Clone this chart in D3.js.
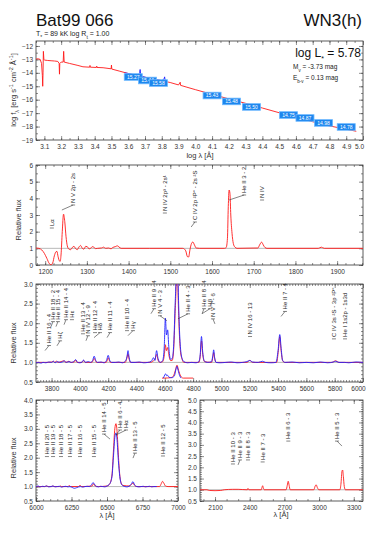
<!DOCTYPE html>
<html>
<head>
<meta charset="utf-8">
<script src="https://cdn.jsdelivr.net/npm/d3@7"></script>
<style>
  body { margin: 0; background: #fff; }
  svg { font-family: "Liberation Sans", Arial, sans-serif; }
  .axis .domain { display: none; }
  .axis line { stroke: #444; stroke-width: 0.6; }
  .axis text { font-size: 6.5px; fill: #333; font-family: "Liberation Sans", Arial, sans-serif; }
  .lid { font-size: 6px; fill: #222; }
</style>
</head>
<body>
<script>
// ---- SED panel (log lambda / log f_lambda) ----
const sedModel = [[3.05,-12.98],[3.06,-12.95],[3.075,-13.0],[3.083,-13.3],[3.088,-14.2],[3.09,-15.0],[3.092,-14.0],[3.094,-12.4],[3.097,-13.0],
  [3.1,-13.05],[3.12,-13.08],[3.14,-13.1],[3.16,-13.12],[3.18,-13.15],[3.188,-13.3],[3.19,-14.1],[3.192,-13.3],[3.2,-13.2],[3.212,-13.2],
  [3.215,-12.4],[3.218,-13.2],[3.25,-13.3],[3.3,-13.45],[3.33,-13.55],[3.37,-13.58],[3.372,-13.45],[3.374,-13.58],[3.41,-13.6],[3.412,-13.5],
  [3.414,-13.6],[3.45,-13.62],[3.498,-13.7],[3.5,-13.42],[3.502,-13.72],[3.55,-13.88],[3.6,-14.05],[3.65,-14.2],[3.7,-14.33],[3.75,-14.45],
  [3.8,-14.58],[3.85,-14.72],[3.9,-14.9],[3.91,-14.7],[3.912,-14.93],[3.95,-15.07],[4.0,-15.25],[4.1,-15.6],[4.2,-15.94],[4.3,-16.27],
  [4.4,-16.62],[4.5,-16.97],[4.6,-17.3],[4.7,-17.64],[4.8,-17.95],[4.9,-18.2],[4.96,-18.35]];
const sedObs = [[3.58,-14.0],[3.62,-14.1],[3.66,-14.2],[3.668,-14.0],[3.671,-13.75],[3.674,-14.1],[3.68,-14.25],[3.72,-14.4],
  [3.76,-14.5],[3.8,-14.58],[3.814,-14.45],[3.817,-14.3],[3.82,-14.55],[3.83,-14.62]];
const photLogLam = [3.63, 3.715, 3.78, 4.10, 4.216, 4.335, 4.556, 4.654, 4.765, 4.90];
const photFlux   = [-14.31, -14.57, -14.76, -15.69, -16.13, -16.54, -17.14, -17.36, -17.73, -18.03];
const photMags   = ["15.27", "15.44", "15.58", "15.43", "15.48", "15.50", "14.75", "14.87", "14.98", "14.78"];

// ---- UV panel ----
const uvModel = [[1178,1.02],[1185,1.0],[1192,0.9],[1198,0.7],[1204,0.4],[1210,0.08],[1214,0.02],[1218,0.12],[1222,0.55],[1226,0.8],
  [1228,0.82],[1231,0.5],[1234,0.25],[1236,0.22],[1238,0.6],[1241,2.0],[1244,3.05],[1247,2.6],[1250,1.7],[1253,1.15],[1257,0.95],
  [1261,0.92],[1265,1.05],[1269,1.12],[1273,0.98],[1277,0.92],[1281,1.08],[1285,1.17],[1289,1.0],[1293,0.95],[1297,1.12],[1301,1.1],
  [1305,0.97],[1309,1.0],[1313,1.1],[1317,1.06],[1321,0.98],[1326,1.0],[1335,1.02],[1340,1.07],[1345,1.0],[1352,1.02],[1358,0.97],
  [1362,1.05],[1368,1.1],[1373,1.15],[1377,1.08],[1382,1.0],[1450,1.0],[1530,1.0],[1537,0.85],[1541,0.5],[1544,0.48],[1547,0.9],
  [1551,1.3],[1554,1.38],[1558,1.2],[1562,1.02],[1570,1.0],[1630,1.0],[1634,1.05],[1637,1.6],[1639,3.5],[1641,4.5],[1643,4.3],
  [1645,3.0],[1648,1.9],[1651,1.3],[1655,1.07],[1660,1.0],[1710,1.02],[1714,1.2],[1719,1.37],[1723,1.2],[1727,1.05],[1732,1.0],
  [1855,1.0],[1862,1.07],[1869,1.0],[1962,1.0]];

// ---- optical panel ----
const optModel = [[3690,1.0],[3760,1.0],[3800,1.01],[3813,1.03],[3820,1.0],[3835,1.03],[3845,1.0],[3889,1.04],[3900,1.0],[3923,1.03],
  [3935,1.0],[3960,1.01],[3970,1.06],[3980,1.0],[4015,1.0],[4026,1.05],[4037,1.0],[4085,1.0],[4095,1.06],[4101,1.1],[4108,1.06],
  [4118,1.0],[4185,1.0],[4194,1.06],[4200,1.12],[4207,1.06],[4216,1.0],[4320,1.0],[4330,1.08],[4340,1.22],[4348,1.08],[4358,1.0],
  [4500,1.0],[4515,1.03],[4530,1.08],[4542,1.2],[4552,1.06],[4565,1.0],[4585,1.02],[4597,1.2],[4604,1.45],[4611,1.3],[4620,1.38],
  [4628,1.2],[4640,1.05],[4652,1.05],[4662,1.3],[4672,2.2],[4680,3.1],[4686,5.0],[4692,3.1],[4700,2.0],[4710,1.3],[4722,1.08],
  [4735,1.0],[4840,1.0],[4850,1.15],[4859,1.55],[4868,1.2],[4880,1.02],[4930,1.0],[4940,1.15],[4945,1.25],[4952,1.1],[4962,1.0],
  [5180,1.0],[5200,1.05],[5220,1.0],[5390,1.0],[5402,1.3],[5412,1.66],[5420,1.35],[5432,1.05],[5445,1.0],[5780,1.0],[5806,1.04],
  [5830,1.0],[6000,1.0]];
const optObs = [[3690,0.99],[3710,1.0],[3725,0.98],[3740,1.0],[3760,0.99],[3780,1.01],[3800,1.0],[3813,1.03],[3825,0.99],[3840,1.02],
  [3860,1.0],[3875,1.01],[3889,1.04],[3905,1.0],[3923,1.02],[3940,1.0],[3955,1.02],[3970,1.07],[3985,1.0],[4000,0.99],[4015,1.01],
  [4026,1.06],[4040,1.0],[4060,1.02],[4075,1.0],[4090,1.05],[4101,1.16],[4112,1.05],[4125,1.0],[4150,1.01],[4170,0.99],[4188,1.05],
  [4200,1.18],[4212,1.04],[4225,1.0],[4250,1.0],[4275,1.01],[4300,0.99],[4320,1.03],[4333,1.15],[4340,1.3],[4348,1.12],[4360,1.0],
  [4390,1.0],[4420,1.01],[4450,0.99],[4480,1.0],[4505,1.03],[4520,1.12],[4530,1.05],[4542,1.3],[4552,1.1],[4568,1.0],[4585,1.05],
  [4596,1.4],[4604,2.13],[4612,1.7],[4620,1.83],[4628,1.4],[4640,1.08],[4652,1.1],[4662,1.4],[4672,2.4],[4680,3.4],[4686,5.5],
  [4692,3.5],[4700,2.2],[4710,1.4],[4722,1.1],[4735,1.02],[4760,0.99],[4790,1.0],[4820,0.99],[4840,1.02],[4850,1.2],[4859,1.66],
  [4868,1.25],[4880,1.03],[4900,1.0],[4930,1.02],[4940,1.2],[4945,1.32],[4952,1.12],[4962,1.0],[4990,0.99],[5030,1.0],[5070,1.01],
  [5110,0.99],[5150,1.0],[5180,1.02],[5200,1.05],[5220,1.01],[5260,1.0],[5290,1.03],[5310,1.0],[5350,0.99],[5385,1.0],[5400,1.3],
  [5412,1.71],[5422,1.35],[5432,1.05],[5450,1.0],[5500,1.01],[5550,0.99],[5600,1.0],[5650,0.99],[5700,1.01],[5750,0.99],[5790,1.01],
  [5806,1.03],[5830,1.0],[5870,1.0],[5900,0.99],[5950,1.01],[6000,1.0]];
const insetModel = [[4580,0.6],[4600,0.6],[4640,0.61],[4660,0.65],[4675,0.8],[4686,0.93],[4697,0.8],[4712,0.65],[4730,0.6],[4800,0.6]];
const insetObs = [[4590,0.6],[4600,0.68],[4606,0.71],[4613,0.66],[4620,0.67],[4630,0.62],[4650,0.61],[4668,0.66],[4678,0.82],
  [4686,0.9],[4694,0.8],[4705,0.66],[4715,0.6]];

// ---- red panel ----
const redModel = [[6000,1.0],[6060,1.0],[6074,1.02],[6085,1.0],[6110,1.0],[6118,1.02],[6128,1.0],[6165,1.0],[6171,1.02],[6180,1.0],
  [6225,1.0],[6233,1.04],[6242,1.0],[6300,1.0],[6310,1.05],[6320,1.0],[6395,1.02],[6406,1.1],[6417,1.02],[6440,1.0],[6500,1.02],
  [6520,1.1],[6535,1.4],[6545,2.2],[6555,3.0],[6563,3.18],[6571,2.9],[6580,2.1],[6590,1.4],[6600,1.12],[6612,1.04],[6660,1.02],
  [6673,1.08],[6683,1.12],[6693,1.05],[6710,1.0],[6870,1.0],[6882,1.1],[6891,1.18],[6900,1.12],[6912,1.02],[6930,1.0],[7000,1.0]];
const redObs = [[6000,1.0],[6015,1.02],[6030,0.99],[6045,1.01],[6060,1.0],[6075,1.02],[6090,0.99],[6105,1.0],[6120,1.02],[6135,0.99],
  [6150,1.0],[6165,1.01],[6180,0.98],[6195,1.0],[6210,1.01],[6225,0.99],[6240,1.0],[6255,0.97],[6270,0.94],[6285,0.96],[6300,0.99],
  [6315,1.0],[6330,0.98],[6345,1.0],[6360,1.01],[6375,1.0],[6390,1.05],[6402,1.14],[6412,1.08],[6425,1.0],[6440,0.99],[6455,1.01],
  [6470,1.0],[6485,0.99],[6500,1.02],[6520,1.1],[6535,1.35],[6545,2.0],[6555,2.7],[6563,2.86],[6571,2.6],[6580,1.9],[6590,1.35],
  [6600,1.1],[6612,1.03],[6625,1.0],[6640,0.99],[6655,1.01],[6670,1.08],[6683,1.17],[6695,1.05],[6710,1.0],[6725,0.99],[6740,1.0],
  [6755,1.01],[6770,0.99],[6785,1.0],[6800,1.01],[6815,0.99],[6830,1.0],[6850,1.0]];

// ---- near-UV panel ----
const nuvModel = [[1970,1.0],[2030,1.0],[2050,0.97],[2100,0.96],[2150,0.97],[2180,1.0],[2253,1.02],[2300,1.02],[2380,1.0],[2385,1.06],
  [2392,1.0],[2500,1.0],[2506,1.1],[2512,1.18],[2518,1.08],[2526,1.0],[2715,1.0],[2725,1.2],[2733,1.38],[2741,1.2],[2750,1.0],
  [2955,1.0],[2965,1.15],[2975,1.22],[2985,1.1],[2998,1.0],[3180,1.0],[3190,1.3],[3198,1.82],[3204,1.88],[3210,1.6],[3218,1.15],
  [3228,1.0],[3380,1.0]];

// ---- line identifications: [label, line wavelength, label wavelength, label base flux] ----
const uvIds = [["Lα",1216,1216,2.22],["N V 2p - 2s",1240,1267,3.6],["N IV 2p³ - 2s¹",1487,1487,3.12],
  ["C IV 2p ²P° - 2s ²S",1550,1559,2.58],["He II 3 - 2",1641,1677,4.2],["N IV",1720,1720,3.9]];
const optIds = [["He II 16 - 4",3754,3782,1.43],["Hζ",3838,3860,1.55],["He II 18 - 2",3796,3810,2.04],["He II 15 - 4",3831,3845,2.04],
  ["He II 14 - 4",3888,3902,2.09],["Hε",3944,3944,2.09],["He II 13 - 4",4022,4022,1.73],["N IV 12 - 9",4043,4057,1.68],
  ["He II 12 - 4",4100,4107,1.76],["Hδ",4100,4142,1.76],["He II 11 - 4",4192,4213,1.76],["He II 10 - 4",4340,4333,1.81],
  ["Hγ",4340,4375,1.81],["He II 9 - 4",4502,4524,2.37],["N V 4 - 3",4615,4566,2.19],["He II 4 - 3",4693,4764,2.24],
  ["He II 8 - 4",4863,4877,2.37],["Hβ",4863,4919,2.37],["N V 7 - 6",4954,4940,2.11],["N IV 16 - 13",5202,5202,1.66],
  ["He II 7 - 4",5421,5449,2.30],["C IV 3s ²S - 3p ²P°",5795,5795,1.60],["He I 1s2p - 1s3d",5873,5873,1.60]];
const redIds = [["He II 20 - 5",6077,6077,2.04],["He II 19 - 5",6120,6120,2.04],["He II 18 - 5",6176,6176,2.04],
  ["He II 17 - 5",6239,6239,2.04],["He II 16 - 5",6310,6310,2.04],["He II 15 - 5",6408,6408,2.04],["He II 14 - 5",6521,6479,2.82],
  ["He II 6 - 4",6563,6591,2.96],["Hα",6563,6634,2.96],["He II 13 - 5",6683,6697,2.16],["He II 12 - 5",6894,6894,2.06]];
const nuvIds = [["He II 10 - 3",2255,2255,2.15],["He II 9 - 3",2299,2316,2.33],["He II 8 - 3",2385,2385,2.33],
  ["He II 7 - 3",2512,2512,2.24],["He II 6 - 3",2734,2734,3.17],["He II 5 - 3",3198,3155,3.17]];

// ---- tick labels ----
const sedTicks = [3.1,3.2,3.3,3.4,3.5,3.6,3.7,3.8,3.9,4.0,4.1,4.2,4.3,4.4,4.5,4.6,4.7,4.8,4.9,5.0];
const sedYTicks = [-12,-13,-14,-15,-16,-17,-18,-19];
const uvTicks = [1200,1300,1400,1500,1600,1700,1800,1900];
const uvYTicks = [0,1,2,3,4,5,6];
const optTicks = [3800,4000,4200,4400,4600,4800,5000,5200,5400,5600,5800,6000];
const optYTicks = [0.5,1.0,1.5,2.0,2.5,3.0];
const redTicks = [6000,6250,6500,6750,7000];
const redYTicks = [0.5,1.0,1.5,2.0,2.5,3.0,3.5,4.0];
const nuvTicks = [2100,2400,2700,3000,3300];
const nuvYTicks = [0.5,1.0,1.5,2.0,2.5,3.0,3.5,4.0,4.5,5.0];

const RED = "#ff1a1a", BLUE = "#2222ff";
const svg = d3.select("body").append("svg").attr("width", 382).attr("height", 541);

function panel(o) {
  const x = d3.scaleLinear().domain(o.xDom).range([o.left, o.right]);
  const y = d3.scaleLinear().domain(o.yDom).range([o.bottom, o.top]);
  const g = svg.append("g");
  g.append("clipPath").attr("id", o.id).append("rect")
    .attr("x", o.left).attr("y", o.top).attr("width", o.right - o.left).attr("height", o.bottom - o.top);
  const ax = (gen, t) => g.append("g").attr("class", "axis").attr("transform", t).call(gen);
  const bl = `translate(0,${o.bottom})`, tl = `translate(0,${o.top})`;
  const ll = `translate(${o.left},0)`, rl = `translate(${o.right},0)`;
  ax(d3.axisBottom(x).tickValues(o.xMinor).tickSize(-2).tickFormat(""), bl);
  ax(d3.axisTop(x).tickValues(o.xMinor).tickSize(-2).tickFormat(""), tl);
  ax(d3.axisLeft(y).tickValues(o.yMinor).tickSize(-2).tickFormat(""), ll);
  ax(d3.axisRight(y).tickValues(o.yMinor).tickSize(-2).tickFormat(""), rl);
  const xb = ax(d3.axisBottom(x).tickValues(o.xMajor).tickSize(-4).tickPadding(4).tickFormat(o.xFmt), bl);
  ax(d3.axisTop(x).tickValues(o.xMajor).tickSize(-4).tickFormat(""), tl);
  ax(d3.axisLeft(y).tickValues(o.yMajor).tickSize(-4).tickPadding(3).tickFormat(o.yFmt), ll);
  ax(d3.axisRight(y).tickValues(o.yMajor).tickSize(-4).tickFormat(""), rl);
  if (o.lastShift) xb.selectAll(".tick:last-of-type text").attr("dx", o.lastShift);
  g.append("rect").attr("x", o.left).attr("y", o.top).attr("width", o.right - o.left)
    .attr("height", o.bottom - o.top).attr("fill", "none").attr("stroke", "#333").attr("stroke-width", 0.8);
  const plot = g.append("g").attr("clip-path", `url(#${o.id})`);
  return { g, plot, x, y };
}

function curve(p, data, color, type) {
  const line = d3.line().x(d => p.x(d[0])).y(d => p.y(d[1])).curve(type || d3.curveMonotoneX);
  p.plot.append("path").datum(data).attr("d", line).attr("fill", "none")
    .attr("stroke", color).attr("stroke-width", 0.9).attr("stroke-linejoin", "round");
}

function refLine(p, v) {
  const [a, b] = p.x.domain();
  p.plot.append("line").attr("x1", p.x(a)).attr("x2", p.x(b)).attr("y1", p.y(v)).attr("y2", p.y(v))
    .attr("stroke", "#999").attr("stroke-width", 0.7);
}

function lineIds(p, ids) {
  ids.forEach(([name, lam, at, base]) => {
    const xl = p.x(lam), xt = p.x(at), yb = p.y(base);
    const gg = p.g.append("g").attr("stroke", "#333").attr("stroke-width", 0.6);
    if (Math.abs(xl - xt) > 1) gg.append("line").attr("x1", xl).attr("y1", yb + 5).attr("x2", xt).attr("y2", yb);
    gg.append("line").attr("x1", xt - 2).attr("x2", xt + 2).attr("y1", yb).attr("y2", yb);
    p.g.append("text").attr("class", "lid")
      .attr("transform", `translate(${xt + 2.1},${yb - 2}) rotate(-90)`).text(name);
  });
}

function yTitle(x, y, parts) {
  const t = svg.append("text").attr("transform", `translate(${x},${y}) rotate(-90)`)
    .attr("text-anchor", "middle").attr("font-size", 7.5).attr("fill", "#333");
  parts.forEach(([s, shift]) => {
    const ts = t.append("tspan").text(s);
    if (shift) ts.attr("baseline-shift", shift).attr("font-size", 5.5);
  });
}

// ---- header ----
svg.append("text").attr("x", 36).attr("y", 25.5).attr("font-size", 17).attr("fill", "#111").text("Bat99 066");
svg.append("text").attr("x", 362).attr("y", 25.5).attr("font-size", 17).attr("fill", "#111")
  .attr("text-anchor", "end").text("WN3(h)");
const sub = svg.append("text").attr("x", 36).attr("y", 36).attr("font-size", 7).attr("fill", "#222");
sub.append("tspan").text("T");
sub.append("tspan").text("*").attr("baseline-shift", "sub").attr("font-size", 5);
sub.append("tspan").text(" =  89 kK   log R");
sub.append("tspan").text("t").attr("baseline-shift", "sub").attr("font-size", 5);
sub.append("tspan").text(" = 1.00");

// ---- panel 1: SED ----
const p1 = panel({ id: "c1", left: 36, right: 363, top: 41, bottom: 140, xDom: [3.05, 5.0], yDom: [-19, -11.63],
  xMajor: sedTicks, xMinor: d3.range(3.05, 5.0, 0.05), yMajor: sedYTicks, yMinor: d3.range(-19, -11.6, 0.5),
  xFmt: d3.format(".1f"), yFmt: d3.format("d"), lastShift: -4 });
curve(p1, sedModel, RED, d3.curveLinear);
curve(p1, sedObs, BLUE, d3.curveLinear);
const boxes = p1.g.selectAll(".phot").data(photMags).join("g").attr("class", "phot")
  .attr("transform", (d, i) => `translate(${p1.x(photLogLam[i])},${p1.y(photFlux[i])})`);
boxes.append("rect").attr("x", -9).attr("y", -3.3).attr("width", 18).attr("height", 6.6)
  .attr("fill", "#1c86ee").attr("stroke", "#6cb8ff").attr("stroke-width", 0.8);
boxes.append("text").attr("text-anchor", "middle").attr("y", 1.8).attr("font-size", 5).attr("fill", "#fff").text(d => d);
svg.append("text").attr("x", 200).attr("y", 158).attr("text-anchor", "middle").attr("font-size", 7.5).attr("fill", "#333")
  .text("log λ [Å]");
yTitle(16, 90, [["log f"], ["λ", "sub"], [" [erg s"], ["-1", "super"], [" cm"], ["-2", "super"], [" Å"], ["-1", "super"], ["]"]]);
const lum = svg.append("text").attr("x", 361).attr("y", 57).attr("text-anchor", "end").attr("font-size", 12).attr("fill", "#111");
lum.append("tspan").text("log L");
lum.append("tspan").text("*").attr("baseline-shift", "sub").attr("font-size", 7);
lum.append("tspan").text(" = 5.78");
const mv = svg.append("text").attr("x", 293).attr("y", 69).attr("font-size", 6.5).attr("fill", "#222");
mv.append("tspan").text("M");
mv.append("tspan").text("v").attr("baseline-shift", "sub").attr("font-size", 4.5);
mv.append("tspan").text(" = -3.73 mag");
const eb = svg.append("text").attr("x", 293).attr("y", 80).attr("font-size", 6.5).attr("fill", "#222");
eb.append("tspan").text("E");
eb.append("tspan").text("b-v").attr("baseline-shift", "sub").attr("font-size", 4.5);
eb.append("tspan").text(" = 0.13 mag");

// ---- panel 2: UV ----
const p2 = panel({ id: "c2", left: 36, right: 363, top: 165, bottom: 265, xDom: [1178, 1962], yDom: [0, 6],
  xMajor: uvTicks, xMinor: d3.range(1180, 1962, 20), yMajor: uvYTicks, yMinor: d3.range(0, 6, 0.5),
  xFmt: d3.format("d"), yFmt: d3.format("d") });
refLine(p2, 1);
curve(p2, uvModel, RED);
lineIds(p2, uvIds);
yTitle(21, 220, [["Relative flux"]]);

// ---- panel 3: optical ----
const p3 = panel({ id: "c3", left: 36, right: 363, top: 284, bottom: 382, xDom: [3690, 6000], yDom: [0.5, 3.0],
  xMajor: optTicks, xMinor: d3.range(3700, 6000, 20), yMajor: optYTicks, yMinor: d3.range(0.5, 3.0, 0.1),
  xFmt: d3.format("d"), yFmt: d3.format(".1f"), lastShift: -5 });
refLine(p3, 1);
curve(p3, optModel, RED);
curve(p3, optObs, BLUE);
curve(p3, insetModel, RED);
curve(p3, insetObs, BLUE);
lineIds(p3, optIds);
yTitle(16, 343, [["Relative flux"]]);

// ---- panel 4: red ----
const p4 = panel({ id: "c4", left: 36, right: 178, top: 400, bottom: 501, xDom: [6000, 7000], yDom: [0.5, 4.0],
  xMajor: redTicks, xMinor: d3.range(6000, 7000, 50), yMajor: redYTicks, yMinor: d3.range(0.5, 4.0, 0.1),
  xFmt: d3.format("d"), yFmt: d3.format(".1f") });
refLine(p4, 1);
curve(p4, redModel, RED);
curve(p4, redObs, BLUE);
lineIds(p4, redIds);
yTitle(16, 458, [["Relative flux"]]);
svg.append("text").attr("x", 107).attr("y", 518).attr("text-anchor", "middle").attr("font-size", 7.5).attr("fill", "#333").text("λ [Å]");

// ---- panel 5: near UV ----
const p5 = panel({ id: "c5", left: 200, right: 363, top: 400, bottom: 501, xDom: [1970, 3380], yDom: [0.5, 5.0],
  xMajor: nuvTicks, xMinor: d3.range(2000, 3380, 100), yMajor: nuvYTicks, yMinor: d3.range(0.5, 5.0, 0.1),
  xFmt: d3.format("d"), yFmt: d3.format(".1f") });
refLine(p5, 1);
curve(p5, nuvModel, RED);
lineIds(p5, nuvIds);
svg.append("text").attr("x", 281).attr("y", 517).attr("text-anchor", "middle").attr("font-size", 7.5).attr("fill", "#333").text("λ [Å]");
</script>
</body>
</html>
